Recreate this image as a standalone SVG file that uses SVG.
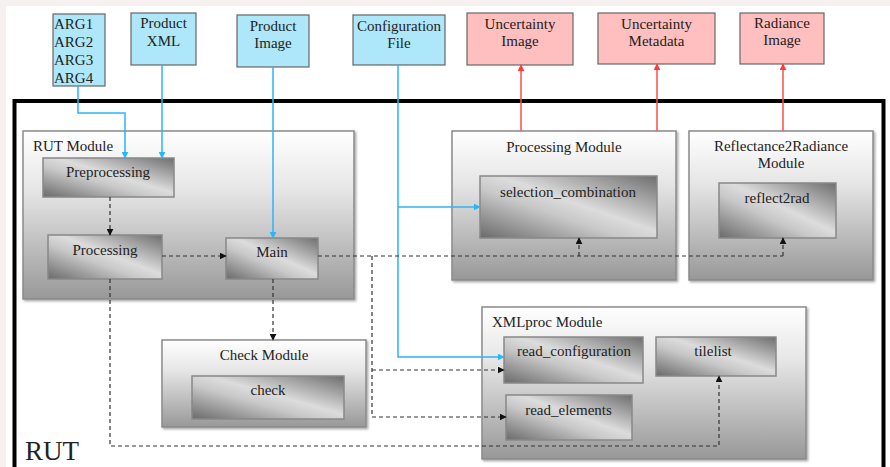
<svg xmlns="http://www.w3.org/2000/svg" width="890" height="467" viewBox="0 0 890 467" font-family="'Liberation Serif', 'Times New Roman', 'DejaVu Serif', serif">
<defs>
<linearGradient id="gMod" x1="0" y1="0" x2="0" y2="1">
<stop offset="0" stop-color="#ffffff"/><stop offset="0.35" stop-color="#e6e6e6"/><stop offset="1" stop-color="#989898"/>
</linearGradient>
<linearGradient id="gFn" x1="1" y1="0" x2="0" y2="1">
<stop offset="0" stop-color="#6e6e6e"/><stop offset="0.45" stop-color="#dcdcdc"/><stop offset="0.6" stop-color="#c8c8c8"/><stop offset="1" stop-color="#6a6a6a"/>
</linearGradient>
<filter id="sh" x="-5%" y="-5%" width="110%" height="115%">
<feDropShadow dx="1.5" dy="1.5" stdDeviation="1" flood-color="#000" flood-opacity="0.35"/>
</filter>
<marker id="aB" viewBox="0 0 10 10" refX="9" refY="5" markerWidth="7" markerHeight="7" orient="auto" markerUnits="userSpaceOnUse"><path d="M0,0 L10,5 L0,10 z" fill="#29b6f6"/></marker>
<marker id="aK" viewBox="0 0 10 10" refX="9" refY="5" markerWidth="7" markerHeight="7" orient="auto" markerUnits="userSpaceOnUse"><path d="M0,0 L10,5 L0,10 z" fill="#111"/></marker>
<marker id="aR" viewBox="0 0 10 10" refX="9" refY="5" markerWidth="7" markerHeight="7" orient="auto" markerUnits="userSpaceOnUse"><path d="M0,0 L10,5 L0,10 z" fill="#ff3b3b"/></marker>
</defs>
<style>
text{font-family:'Liberation Serif','Times New Roman','DejaVu Serif',serif;font-size:15px;fill:#222}
.c{text-anchor:middle}
.in{fill:#aee7f9;stroke:#666;stroke-width:1.2}
.out{fill:#ffbfbf;stroke:#666;stroke-width:1.2}
.mod{fill:url(#gMod);stroke:#8a8a8a;stroke-width:1.5;filter:url(#sh)}
.fn{fill:url(#gFn);stroke:#888;stroke-width:1.5}
.bl{fill:none;stroke:#29b6f6;stroke-width:1.5;marker-end:url(#aB)}
.rd{fill:none;stroke:#ff4d4d;stroke-width:1.5;marker-end:url(#aR)}
.dk{fill:none;stroke:#333;stroke-width:1.2;stroke-dasharray:4,3;marker-end:url(#aK)}
.dkn{fill:none;stroke:#333;stroke-width:1.2;stroke-dasharray:4,3}
</style>
<rect x="0" y="0" width="890" height="467" fill="#f7f0f0"/>
<rect x="6" y="6" width="884" height="461" fill="#ffffff"/>

<g id="RUT">
<rect x="14.5" y="101" width="869" height="380" fill="#ffffff" stroke="#000" stroke-width="4"/>
<text x="25" y="460" style="font-size:27px">RUT</text>
</g>

<g id="ARGS"><rect class="in" x="53" y="14" width="52" height="72"/>
<text x="54" y="29">ARG1</text><text x="54" y="47">ARG2</text><text x="54" y="65">ARG3</text><text x="54" y="83">ARG4</text></g>
<g id="ProductXML"><rect class="in" x="131" y="13" width="65" height="52"/>
<text class="c" x="163.5" y="28">Product</text><text class="c" x="163.5" y="46">XML</text></g>
<g id="ProductImage"><rect class="in" x="237" y="15" width="72" height="52"/>
<text class="c" x="273" y="31">Product</text><text class="c" x="273" y="48">Image</text></g>
<g id="ConfigurationFile"><rect class="in" x="353" y="15" width="92" height="50"/>
<text class="c" x="399" y="31">Configuration</text><text class="c" x="399" y="48">File</text></g>

<g id="UncertaintyImage"><rect class="out" x="467" y="13" width="106" height="52"/>
<text class="c" x="520" y="29">Uncertainty</text><text class="c" x="520" y="46">Image</text></g>
<g id="UncertaintyMetadata"><rect class="out" x="598" y="13" width="117" height="51"/>
<text class="c" x="656.5" y="29">Uncertainty</text><text class="c" x="656.5" y="46">Metadata</text></g>
<g id="RadianceImage"><rect class="out" x="740" y="13" width="84" height="51"/>
<text class="c" x="782" y="28">Radiance</text><text class="c" x="782" y="45">Image</text></g>

<g id="RUTModule"><rect class="mod" x="23" y="131" width="331" height="168"/>
<text x="33" y="151">RUT Module</text></g>
<g id="ProcessingModule"><rect class="mod" x="452" y="131" width="224" height="149"/>
<text class="c" x="564" y="152">Processing Module</text></g>
<g id="R2RModule"><rect class="mod" x="689" y="131" width="184" height="149"/>
<text class="c" x="781" y="151">Reflectance2Radiance</text><text class="c" x="781" y="168">Module</text></g>
<g id="CheckModule"><rect class="mod" x="162" y="340" width="204" height="87"/>
<text class="c" x="264" y="360">Check Module</text></g>
<g id="XMLprocModule"><rect class="mod" x="482" y="307" width="324" height="152"/>
<text x="492" y="327">XMLproc Module</text></g>

<g id="Preprocessing"><rect class="fn" x="43" y="158" width="131" height="39"/><text class="c" x="108" y="177">Preprocessing</text></g>
<g id="Processing"><rect class="fn" x="48" y="235" width="114" height="44"/><text class="c" x="105" y="255">Processing</text></g>
<g id="Main"><rect class="fn" x="226" y="238" width="92" height="41"/><text class="c" x="272" y="257">Main</text></g>
<g id="check"><rect class="fn" x="192" y="376" width="152" height="43"/><text class="c" x="268" y="395">check</text></g>
<g id="selection_combination"><rect class="fn" x="480" y="176" width="177" height="62"/><text class="c" x="568" y="197">selection_combination</text></g>
<g id="reflect2rad"><rect class="fn" x="719" y="183" width="117" height="55"/><text class="c" x="777" y="203">reflect2rad</text></g>
<g id="read_configuration"><rect class="fn" x="504" y="337" width="139" height="46"/><text class="c" x="574" y="356">read_configuration</text></g>
<g id="tilelist"><rect class="fn" x="656" y="337" width="120" height="39"/><text class="c" x="713" y="356">tilelist</text></g>
<g id="read_elements"><rect class="fn" x="506" y="395" width="126" height="45"/><text class="c" x="568.5" y="415">read_elements</text></g>

<g id="connectors">
<path class="bl" d="M78,86 V113 H125 V158"/>
<path class="bl" d="M162,65 V158"/>
<path class="bl" d="M273,67 V238"/>
<path class="bl" d="M398,65 V357 H504"/>
<path class="bl" d="M398,207 H480"/>
<path class="rd" d="M521,131 V65"/>
<path class="rd" d="M657,131 V64"/>
<path class="rd" d="M783,131 V64"/>
<path class="dk" d="M110,197 V235"/>
<path class="dk" d="M162,256 H226"/>
<path class="dk" d="M273,279 V340"/>
<path class="dkn" d="M318,256 H783"/>
<path class="dk" d="M579,256 V238"/>
<path class="dk" d="M783,256 V238"/>
<path class="dkn" d="M372,256 V417"/>
<path class="dk" d="M372,370 H504"/>
<path class="dk" d="M372,417 H506"/>
<path class="dk" d="M110,279 V446 H719 V376"/>
</g>
</svg>
